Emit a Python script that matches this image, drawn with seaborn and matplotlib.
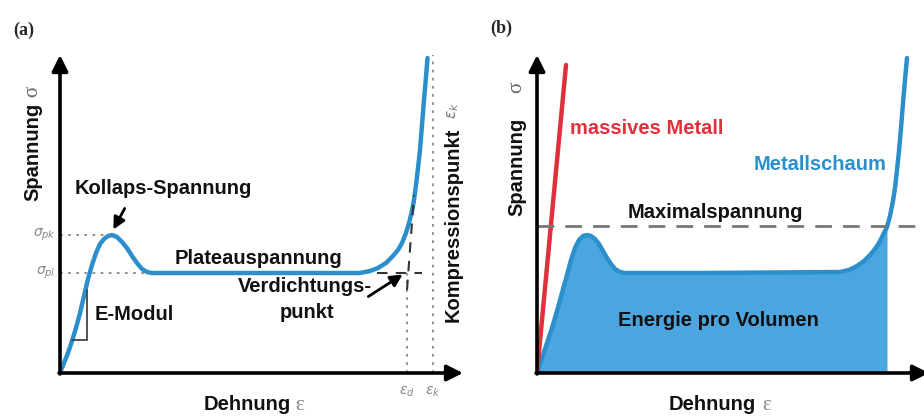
import numpy as np
import pandas as pd
import matplotlib
matplotlib.use("Agg")
import matplotlib.pyplot as plt
import seaborn as sns

sns.set_style("white")
plt.rcParams['font.family'] = ['Liberation Sans', 'DejaVu Sans']

# ---------------- data (strain / stress units, schematic) ----------------
# panel (a): metal foam stress-strain curve
strain_a = [0, 4, 8, 12, 16, 20, 24, 28, 32, 36, 40, 44, 48, 52, 57, 62, 67, 72, 77,
            82, 87, 92, 190, 300, 310, 318, 326, 332, 338, 342, 346, 349, 352, 354,
            356, 358, 360, 362, 364, 366, 367.5]
stress_a = [0, 10, 20, 32, 45, 60, 77, 94, 108, 120, 129, 134, 137, 138, 136, 131, 125,
            117, 110, 104, 101, 100, 100, 100, 102, 105, 110, 116, 123, 130, 140, 150,
            162, 173, 188, 205, 223, 248, 273, 296, 315]
# panel (b): metal foam curve and bulk metal
strain_b = [0, 5, 10, 15, 20, 25, 30, 34, 38, 42, 46, 50, 54, 58, 62, 66, 70, 74, 78,
            83, 88, 163, 303, 312, 320, 327, 333, 338, 342, 346, 350, 353, 356, 358,
            360, 362, 364, 366, 368, 370]
stress_b = [0, 15, 30, 45, 62, 80, 98, 113, 125, 133, 137, 138, 137, 134, 129, 122,
            115, 109, 104, 101, 100, 100, 101, 103, 107, 112, 118, 124, 130, 138, 146,
            157, 172, 185, 203, 222, 245, 270, 293, 315]
strain_bulk = [0, 29]
stress_bulk = [0, 308]

sigma_pk = 138      # collapse stress
sigma_pl = 100      # plateau stress
eps_d = 347         # densification strain
eps_k = 373         # compression point
sigma_max = 147     # max stress (panel b)
fill_end = 350      # end of energy area

BLUE = "#2b8fcc"
FILL = "#4ba6e0"
RED = "#e0303c"

W, H = 924, 416
fig = plt.figure(figsize=(W / 100, H / 100), dpi=100)
fig.patch.set_facecolor("white")


def make_ax(x0, width):
    ax = fig.add_axes([x0 / W, (H - 373) / H, width / W, 333 / H])
    ax.set_xlim(0, width)
    ax.set_ylim(0, 333)
    ax.axis("off")
    return ax


FS = 14.5
bold = dict(fontsize=FS, fontweight="bold", color="#111111")
line_kw = dict(solid_joinstyle="round", solid_capstyle="round")


def axes_arrows(ax, xtip, ytip):
    ap = dict(arrowstyle="-|>", lw=2.6, color="black", mutation_scale=24,
              shrinkA=0, shrinkB=0)
    ax.annotate("", xy=(xtip, 0), xytext=(-1, 0), arrowprops=ap, annotation_clip=False)
    ax.annotate("", xy=(0, ytip), xytext=(0, -1), arrowprops=ap, annotation_clip=False)


# ================= panel (a) =================
axa = make_ax(60, 410)
df_a = pd.DataFrame({"strain": strain_a, "stress": stress_a})
sns.lineplot(data=df_a, x="strain", y="stress", ax=axa, color=BLUE, lw=3.2,
             sort=False, legend=False, **line_kw)
axa.axis("off")
axes_arrows(axa, 403, 318)

# dotted guide lines
dot = dict(color="#888888", lw=1.3, ls=(0, (1.5, 3)))
axa.plot([0, 50], [sigma_pk, sigma_pk], **dot)
axa.plot([0, 90], [sigma_pl, sigma_pl], **dot)
axa.plot([eps_d, eps_d], [0, sigma_pl], **dot)
axa.plot([eps_k, eps_k], [0, 318], **dot)
# dashed construction lines
dash = dict(color="#333333", lw=1.5, ls=(0, (5, 4)))
axa.plot([317, 362], [sigma_pl, sigma_pl], **dash)
axa.plot([eps_d, 354], [83, 178], **dash)
# E-module triangle
axa.plot([12, 27, 27], [33, 33, 83], color="#444444", lw=1.3)

axa.text(103, 185, "Kollaps-Spannung", ha="center", va="center", **bold)
axa.annotate("", xy=(52, 141), xytext=(66, 167),
             arrowprops=dict(arrowstyle="-|>", lw=2, color="black", mutation_scale=18))
axa.text(198, 115, "Plateauspannung", ha="center", va="center", **bold)
axa.text(35, 58, "E-Modul", ha="left", va="center", **bold)
axa.text(245, 86, "Verdichtungs-", ha="center", va="center", **bold)
axa.text(247, 60, "punkt", ha="center", va="center", **bold)
axa.annotate("", xy=(345, 100), xytext=(306, 75),
             arrowprops=dict(arrowstyle="-|>", lw=2, color="black", mutation_scale=18))
axa.text(393, 148, "Kompressionspunkt", rotation=90, ha="center", va="center", **bold)
axa.text(393, 262, r"$\varepsilon_k$", rotation=90, ha="center", va="center",
         fontsize=11, color="#777777")
axa.text(-4, sigma_pk, r"$\sigma_{pk}$", ha="right", va="center", fontsize=10, color="#888888")
axa.text(-4, sigma_pl, r"$\sigma_{pl}$", ha="right", va="center", fontsize=10, color="#888888")
axa.text(eps_d, -19, r"$\varepsilon_d$", ha="center", va="center", fontsize=10, color="#888888")
axa.text(eps_k, -19, r"$\varepsilon_k$", ha="center", va="center", fontsize=10, color="#888888")
axa.text(-27, 221, "Spannung", rotation=90, ha="center", va="center", **bold)
axa.text(-27, 282, "σ", rotation=90, ha="center", va="center",
         fontsize=15, color="#666666", family="Liberation Serif")
axa.text(187, -32, "Dehnung", ha="center", va="center", **bold)
axa.text(240, -32, "ε", ha="center", va="center", fontsize=15, color="#888888",
         family="Liberation Serif")

# ================= panel (b) =================
axb = make_ax(537, 387)
df_b = pd.DataFrame({"strain": strain_b, "stress": stress_b})
mask = df_b["strain"] <= fill_end
axb.fill_between(df_b["strain"][mask], 0, df_b["stress"][mask], color=FILL, lw=0)
sns.lineplot(data=df_b, x="strain", y="stress", ax=axb, color=BLUE, lw=3.2,
             sort=False, legend=False, **line_kw)
sns.lineplot(x=strain_bulk, y=stress_bulk, ax=axb, color=RED, lw=3.2, legend=False)
axb.axis("off")
axb.plot([0, 387], [sigma_max, sigma_max], color="#777777", lw=2, ls=(0, (6, 4)))
axes_arrows(axb, 392, 318)

axb.text(110, 245, "massives Metall", ha="center", va="center", fontsize=FS,
         fontweight="bold", color=RED)
axb.text(283, 208, "Metallschaum", ha="center", va="center", fontsize=FS,
         fontweight="bold", color=BLUE)
axb.text(178, 161, "Maximalspannung", ha="center", va="center", **bold)
axb.text(181, 53, "Energie pro Volumen", ha="center", va="center", **bold)
axb.text(-20, 206, "Spannung", rotation=90, ha="center", va="center", **bold)
axb.text(-20, 286, "σ", rotation=90, ha="center", va="center",
         fontsize=15, color="#666666", family="Liberation Serif")
axb.text(175, -32, "Dehnung", ha="center", va="center", **bold)
axb.text(230, -32, "ε", ha="center", va="center", fontsize=15, color="#888888",
         family="Liberation Serif")

fig.text(24 / W, 1 - 30 / H, "(a)", ha="center", va="center", fontsize=13,
         fontweight="bold", family="Liberation Serif")
fig.text(501 / W, 1 - 28 / H, "(b)", ha="center", va="center", fontsize=13,
         fontweight="bold", family="Liberation Serif")

fig.savefig("out.png", dpi=100, facecolor="white")
